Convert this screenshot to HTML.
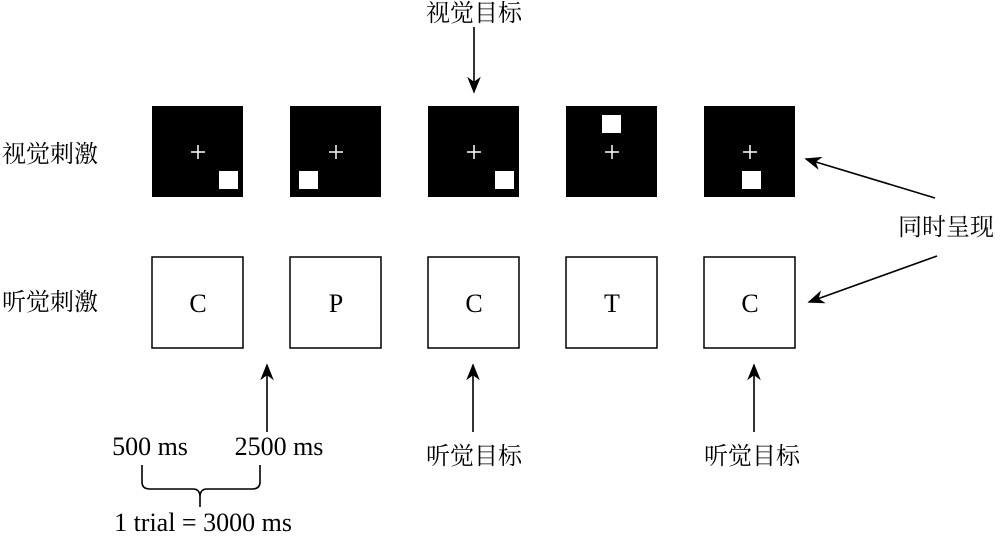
<!DOCTYPE html>
<html><head><meta charset="utf-8"><style>body{margin:0;background:#fff}</style></head><body>
<svg width="1000" height="536" viewBox="0 0 1000 536" xmlns="http://www.w3.org/2000/svg" font-family="'Liberation Serif','Noto Serif CJK SC',serif">
<defs>
<marker id="b" viewBox="0 0 10 10" refX="9" refY="5" markerWidth="17" markerHeight="17" markerUnits="userSpaceOnUse" orient="auto"><path d="M0,1 L10,5 L0,9 L3,5 Z" fill="#000"/></marker></defs>
<g font-size="24" text-anchor="middle">
<text x="474" y="21">视觉目标</text>
<text x="50" y="162">视觉刺激</text>
<text x="50" y="310">听觉刺激</text>
<text x="946" y="235">同时呈现</text>
<text x="474" y="464">听觉目标</text>
<text x="752" y="464">听觉目标</text>
</g>
<g fill="#000">
<rect x="152" y="106" width="91" height="91"/><rect x="290" y="106" width="91" height="91"/><rect x="428" y="106" width="91" height="91"/><rect x="566" y="106" width="91" height="91"/><rect x="704" y="106" width="91" height="91"/>
</g>
<g fill="#fff">
<rect x="219" y="171" width="19" height="18"/><rect x="299" y="171" width="19" height="18"/><rect x="495" y="171" width="19" height="18"/><rect x="602" y="115" width="19" height="18"/><rect x="742" y="171" width="19" height="18"/>
</g>
<g stroke="#fff" stroke-width="1.5">
<path d="M191,152h14M198,145v14M329,152h14M336,145v14M467,152h14M474,145v14M605,152h14M612,145v14M743,152h14M750,145v14"/>
</g>
<g fill="none" stroke="#000" stroke-width="1.5">
<rect x="152" y="257" width="91" height="91"/><rect x="290" y="257" width="91" height="91"/><rect x="428" y="257" width="91" height="91"/><rect x="566" y="257" width="91" height="91"/><rect x="704" y="257" width="91" height="91"/>
</g>
<g font-size="26" text-anchor="middle">
<text x="198" y="312">C</text><text x="336" y="312">P</text><text x="474" y="312">C</text><text x="612" y="312">T</text><text x="750" y="312">C</text>
</g>
<g stroke="#000" stroke-width="1.6" fill="none">
<line x1="474" y1="27" x2="474" y2="92" marker-end="url(#b)"/>
<line x1="267" y1="432" x2="267" y2="365" marker-end="url(#b)"/>
<line x1="473" y1="432" x2="473" y2="365" marker-end="url(#b)"/>
<line x1="754" y1="432" x2="754" y2="365" marker-end="url(#b)"/>
<line x1="935" y1="198" x2="806" y2="159" marker-end="url(#b)"/>
<line x1="937" y1="256" x2="809" y2="302" marker-end="url(#b)"/>
<path d="M142,465 V482 Q142,489 150,489 H193 Q200,489 200,497 V507 M200,497 Q200,489 207,489 H252 Q260,489 260,482 V465"/>
</g>
<g font-size="26" text-anchor="middle">
<text x="150" y="455">500 ms</text>
<text x="279" y="455">2500 ms</text>
<text x="203" y="531">1 trial = 3000 ms</text>
</g>
</svg>
</body></html>
